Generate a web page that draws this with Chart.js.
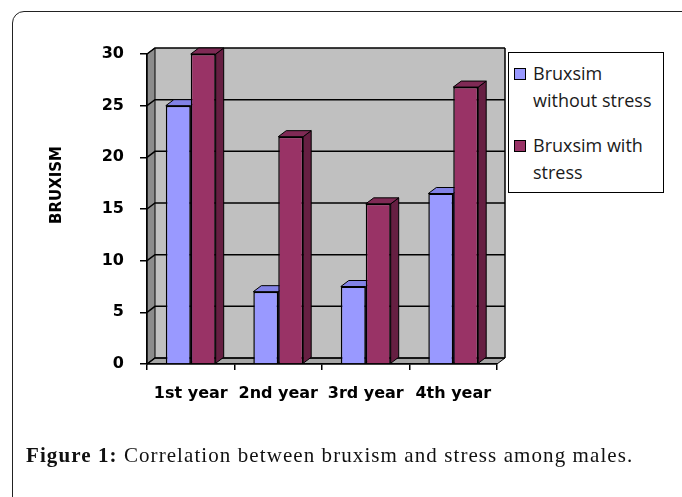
<!DOCTYPE html>
<html>
<head>
<meta charset="utf-8">
<script src="https://cdn.jsdelivr.net/npm/chart.js@4.4.1/dist/chart.umd.min.js"></script>
<style>
  body { margin: 0; background: #fff; width: 682px; height: 497px; overflow: hidden; position: relative; }
  #frame { position: absolute; left: 12px; top: 11px; width: 720px; height: 540px; border: 1.5px solid #222; border-radius: 12px; }
  #chart { position: absolute; left: 0; top: 0; }
  #legend { position: absolute; left: 508px; top: 52px; width: 156px; height: 141px; border: 1px solid #000; background: #fff;
            font-family: 'Open Sans', sans-serif; font-size: 18px; color: #1a1a1a; padding-top: 7px; box-sizing: border-box; }
  .item { position: relative; padding-left: 24px; line-height: 27px; width: 126px; margin-bottom: 18px; }
  .swatch { position: absolute; left: 5px; top: 8px; width: 10px; height: 10px; border: 1.5px solid #000; }
  #caption { position: absolute; left: 26px; top: 443px; font-family: 'Liberation Serif', serif; font-size: 21px;
             line-height: 24px; color: #111; white-space: nowrap; letter-spacing: 1.08px; }
  #caption b { font-weight: bold; }
</style>
</head>
<body>
<div id="frame"></div>
<canvas id="chart" width="682" height="497"></canvas>
<div id="legend"></div>
<div id="caption"><b>Figure 1:</b> Correlation between bruxism and stress among males.</div>
<script>
// Data
const categories = ['1st year', '2nd year', '3rd year', '4th year'];
const withoutStress = [25, 7, 7.5, 16.5];
const withStress = [30, 22, 15.5, 26.8];
const seriesLabels = ['Bruxsim without stress', 'Bruxsim with stress'];
const yTitle = 'BRUXISM';
const yMax = 30;
const yStep = 5;

// front / top / side shades for the fake 3D bars
const shades = [
  { front: '#9999ff', top: '#8282e6', side: '#6a6ab8' },
  { front: '#993366', top: '#7f2a55', side: '#661f42' }
];
const depth = { x: 8, y: -6 };

// Walls, floor and back gridlines
const walls3d = {
  id: 'walls3d',
  beforeDraw(chart) {
    const { ctx, chartArea: a, scales: { y } } = chart;
    const dx = depth.x, dy = depth.y;
    ctx.save();
    ctx.lineWidth = 1;
    ctx.strokeStyle = '#000';
    // back wall
    ctx.fillStyle = '#c0c0c0';
    ctx.fillRect(a.left + dx, a.top + dy, a.right - a.left, a.bottom - a.top);
    // left wall
    ctx.fillStyle = '#8c8c8c';
    ctx.beginPath();
    ctx.moveTo(a.left, a.top);
    ctx.lineTo(a.left + dx, a.top + dy);
    ctx.lineTo(a.left + dx, a.bottom + dy);
    ctx.lineTo(a.left, a.bottom);
    ctx.closePath();
    ctx.fill();
    ctx.stroke();
    // floor
    ctx.fillStyle = '#a6a6a6';
    ctx.beginPath();
    ctx.moveTo(a.left, a.bottom);
    ctx.lineTo(a.left + dx, a.bottom + dy);
    ctx.lineTo(a.right + dx, a.bottom + dy);
    ctx.lineTo(a.right, a.bottom);
    ctx.closePath();
    ctx.fill();
    ctx.stroke();
    // gridlines on the back wall
    ctx.lineWidth = 1.5;
    y.ticks.forEach(t => {
      const py = y.getPixelForValue(t.value);
      ctx.beginPath();
      ctx.moveTo(a.left, py);
      ctx.lineTo(a.left + dx, py + dy);
      ctx.lineTo(a.right + dx, py + dy);
      ctx.stroke();
    });
    ctx.beginPath();
    ctx.moveTo(a.right + dx, a.top + dy);
    ctx.lineTo(a.right + dx, a.bottom + dy);
    ctx.stroke();
    ctx.restore();
  }
};

// Tops and sides of the bars, drawn before the fronts
const bars3d = {
  id: 'bars3d',
  beforeDatasetsDraw(chart) {
    const { ctx } = chart;
    const dx = depth.x, dy = depth.y;
    ctx.save();
    ctx.lineWidth = 1;
    ctx.strokeStyle = '#000';
    chart.data.datasets.forEach((ds, i) => {
      chart.getDatasetMeta(i).data.forEach(bar => {
        const { x, y, base, width } = bar.getProps(['x', 'y', 'base', 'width'], true);
        const l = x - width / 2, r = x + width / 2;
        ctx.fillStyle = shades[i].side;
        ctx.beginPath();
        ctx.moveTo(r, y);
        ctx.lineTo(r + dx, y + dy);
        ctx.lineTo(r + dx, base + dy);
        ctx.lineTo(r, base);
        ctx.closePath();
        ctx.fill();
        ctx.stroke();
        ctx.fillStyle = shades[i].top;
        ctx.beginPath();
        ctx.moveTo(l, y);
        ctx.lineTo(l + dx, y + dy);
        ctx.lineTo(r + dx, y + dy);
        ctx.lineTo(r, y);
        ctx.closePath();
        ctx.fill();
        ctx.stroke();
      });
    });
    ctx.restore();
  },
  afterDraw(chart) {
    const { ctx } = chart;
    ctx.save();
    ctx.translate(57, 185);
    ctx.rotate(-Math.PI / 2);
    ctx.font = 'bold 15px "DejaVu Sans"';
    ctx.fillStyle = '#000';
    ctx.textAlign = 'center';
    ctx.textBaseline = 'middle';
    ctx.fillText(yTitle, 0, 0);
    ctx.restore();
  }
};

Chart.defaults.color = '#000';
Chart.defaults.font.family = '"DejaVu Sans"';
Chart.defaults.font.weight = 'bold';

const chart = new Chart(document.getElementById('chart'), {
  type: 'bar',
  data: {
    labels: categories,
    datasets: [
      { label: seriesLabels[0], data: withoutStress, backgroundColor: shades[0].front, borderColor: '#000', borderWidth: 1.5 },
      { label: seriesLabels[1], data: withStress, backgroundColor: shades[1].front, borderColor: '#000', borderWidth: 1.5 }
    ]
  },
  options: {
    responsive: false,
    animation: false,
    categoryPercentage: 0.57,
    barPercentage: 1,
    layout: { padding: { top: 54, right: 185, left: 0, bottom: 0 } },
    plugins: { legend: { display: false }, tooltip: { enabled: false } },
    scales: {
      x: {
        grid: { drawOnChartArea: false, drawTicks: true, tickLength: 6, color: '#000', lineWidth: 1.5 },
        border: { color: '#000', width: 1.5 },
        ticks: { font: { size: 16, weight: 'bold' }, padding: 14, autoSkip: false, maxRotation: 0 },
        afterFit(scale) { scale.height = 133; }
      },
      y: {
        min: 0,
        max: yMax,
        grid: { drawOnChartArea: false, drawTicks: true, tickLength: 7, color: '#000', lineWidth: 1.5 },
        border: { color: '#000', width: 1.5 },
        ticks: { stepSize: yStep, font: { size: 16, weight: 'bold' }, padding: 16 },
        afterFit(scale) { scale.width = 147; }
      }
    }
  },
  plugins: [walls3d, bars3d]
});

// HTML legend from the datasets
const legendEl = document.getElementById('legend');
chart.data.datasets.forEach(ds => {
  const item = document.createElement('div');
  item.className = 'item';
  item.innerHTML = `<span class="swatch" style="background:${ds.backgroundColor}"></span>${ds.label}`;
  legendEl.appendChild(item);
});
</script>
</body>
</html>
